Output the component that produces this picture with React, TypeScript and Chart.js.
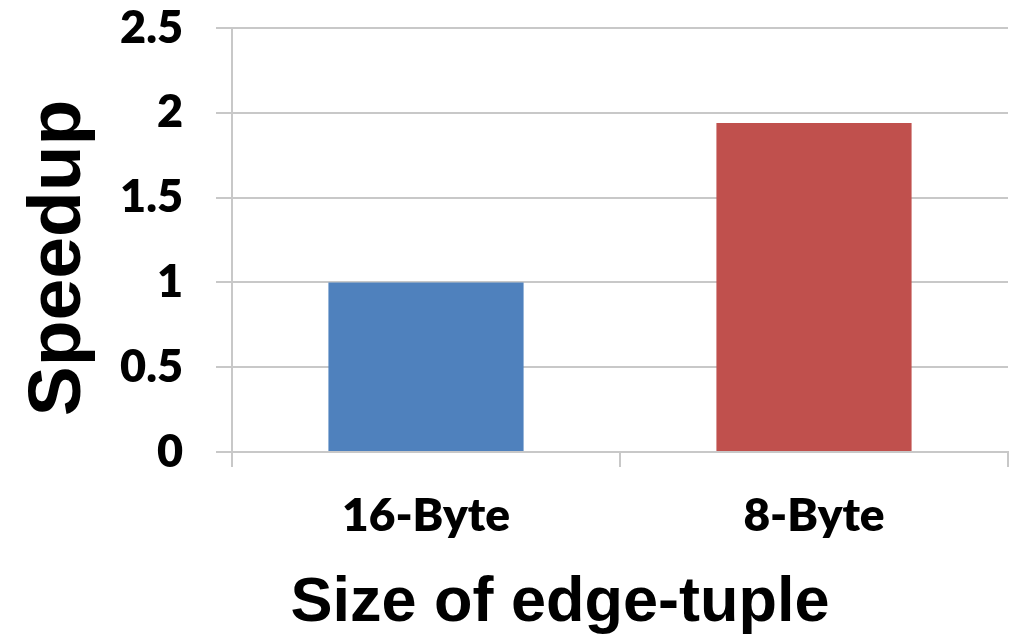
import React, { useEffect, useRef } from "react";
import { Chart, registerables } from "chart.js";

Chart.register(...registerables);

// Tuple sizes compared and the measured speedup for each
const categories: string[] = ["16-Byte", "8-Byte"];
const speedup: number[] = [1.0, 1.94];
const barColors: string[] = ["#4F81BD", "#C0504D"];
const yTicks: number[] = [0, 0.5, 1, 1.5, 2, 2.5];

const yTitle = "Speedup";
const xTitle = "Size of edge-tuple";

const GRID = "#c8c8c8";

// Axis titles drawn directly on the canvas (Excel-style placement)
const axisTitles = {
  id: "axisTitles",
  afterDraw(chart: Chart) {
    const ctx = chart.ctx;
    ctx.save();
    ctx.fillStyle = "#000";
    ctx.font = "bold 75px 'Liberation Sans', Arial, sans-serif";
    ctx.textAlign = "center";
    ctx.textBaseline = "alphabetic";
    ctx.translate(80, 258);
    ctx.rotate(-Math.PI / 2);
    ctx.fillText(yTitle, 0, 0);
    ctx.restore();

    ctx.save();
    ctx.fillStyle = "#000";
    ctx.font = "bold 63px 'Liberation Sans', Arial, sans-serif";
    ctx.textAlign = "center";
    ctx.textBaseline = "alphabetic";
    ctx.fillText(xTitle, 560, 621);
    ctx.restore();
  },
};

export default function App() {
  const canvasRef = useRef<HTMLCanvasElement | null>(null);

  useEffect(() => {
    const canvas = canvasRef.current;
    if (!canvas) return;
    const chart = new Chart(canvas, {
      type: "bar",
      data: {
        labels: categories,
        datasets: [
          {
            data: speedup,
            backgroundColor: barColors,
            borderWidth: 0,
            barPercentage: 1,
            categoryPercentage: 0.503,
          },
        ],
      },
      options: {
        responsive: false,
        animation: false,
        layout: { padding: { top: 28, right: 1, left: 0, bottom: 0 } },
        plugins: {
          legend: { display: false },
          tooltip: { enabled: false },
        },
        scales: {
          x: {
            grid: {
              offset: true,
              drawOnChartArea: false,
              drawTicks: true,
              tickLength: 15,
              color: GRID,
              lineWidth: 2,
            },
            border: { display: true, color: GRID, width: 2 },
            ticks: {
              color: "#000",
              font: { family: "Lato", weight: 800, size: 46 },
              padding: 22,
              maxRotation: 0,
            },
            afterFit(scale: any) {
              scale.height = 183;
              scale.paddingLeft = 0;
              scale.paddingRight = 0;
            },
          },
          y: {
            min: 0,
            max: 2.5,
            afterBuildTicks(scale: any) {
              scale.ticks = yTicks.map((v) => ({ value: v }));
            },
            grid: {
              color: GRID,
              lineWidth: 2,
              drawTicks: true,
              tickLength: 16,
            },
            border: { display: true, color: GRID, width: 2 },
            ticks: {
              color: "#000",
              font: { family: "Lato", weight: 800, size: 45 },
              padding: 33,
              callback: (v: any) => String(v),
            },
            afterFit(scale: any) {
              scale.width = 232;
              scale.paddingTop = 0;
              scale.paddingBottom = 0;
            },
          },
        },
      },
      plugins: [axisTitles],
    });
    return () => chart.destroy();
  }, []);

  return (
    <div style={{ position: "absolute", left: 0, top: 0, width: 1009, height: 635, background: "#fff" }}>
      <canvas ref={canvasRef} width={1009} height={635} style={{ display: "block" }} />
    </div>
  );
}
